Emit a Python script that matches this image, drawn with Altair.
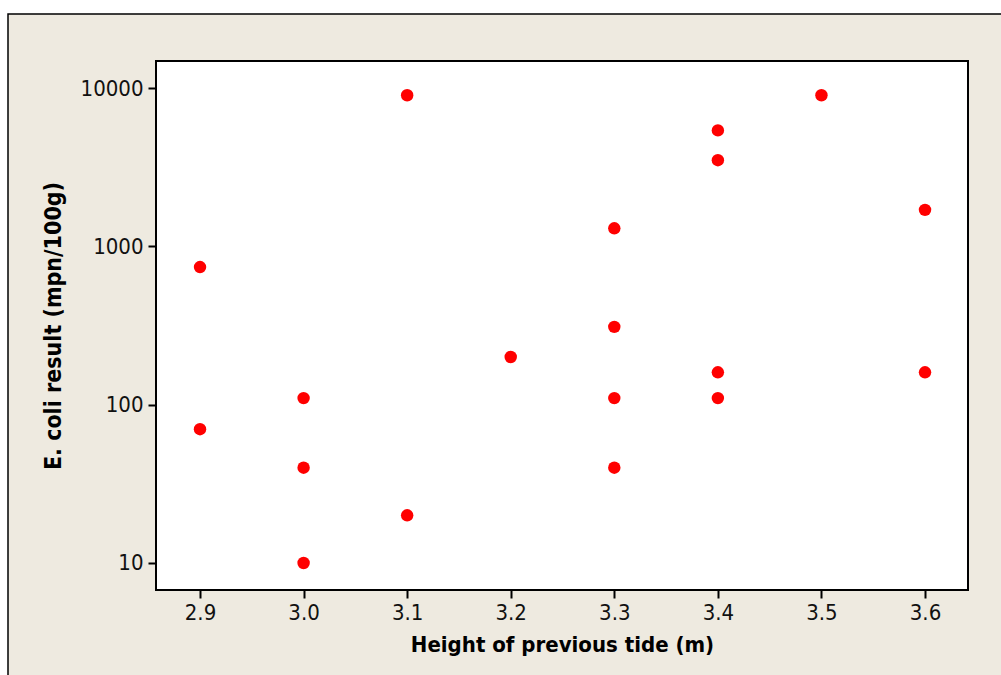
import altair as alt
import pandas as pd

tide = [2.9, 2.9, 3.0, 3.0, 3.0, 3.1, 3.1, 3.2, 3.3, 3.3, 3.3, 3.3, 3.4, 3.4, 3.4, 3.4, 3.5, 3.6, 3.6]
ecoli = [740, 70, 110, 40, 10, 9000, 20, 200, 1300, 310, 110, 40, 5400, 3500, 160, 110, 9000, 1700, 160]
x_ticks = [2.9, 3.0, 3.1, 3.2, 3.3, 3.4, 3.5, 3.6]
y_ticks = [10, 100, 1000, 10000]

df = pd.DataFrame({"tide": tide, "ecoli": ecoli})

W, H = 812, 529
PL, PT = 156, 61
BG = "#EEEAE0"
FONT = "DejaVu Sans Condensed"

one = alt.Data(values=[{"a": 1}])

frame = alt.Chart(one).mark_rect(fill=BG, stroke="black", strokeWidth=1.5, clip=False).encode(
    x=alt.value(8 - PL), x2=alt.value(1001 - PL + 20),
    y=alt.value(14 - PT), y2=alt.value(675 - PT + 20),
)
plotbg = alt.Chart(one).mark_rect(fill="white", stroke="black", strokeWidth=2, clip=False).encode(
    x=alt.value(0), x2=alt.value(W), y=alt.value(0), y2=alt.value(H),
)

points = alt.Chart(df).mark_circle(color="#FF0000", opacity=1, size=155).encode(
    x=alt.X("tide:Q", scale=alt.Scale(domain=[2.8575, 3.6415], nice=False, zero=False),
            axis=alt.Axis(values=x_ticks, format=".1f", title="Height of previous tide (m)",
                          grid=False, domain=False, tickColor="black", tickWidth=2, tickSize=8,
                          labelFont=FONT, labelFontSize=22, labelColor="#111", labelPadding=4,
                          titleFont=FONT, titleFontSize=22, titleFontWeight="bold",
                          titleColor="black", titlePadding=11, zindex=1)),
    y=alt.Y("ecoli:Q", scale=alt.Scale(type="log", domain=[6.75, 14815], nice=False),
            axis=alt.Axis(values=y_ticks, format="d", title="E. coli result (mpn/100g)",
                          grid=False, domain=False, tickColor="black", tickWidth=2, tickSize=8,
                          labelFont=FONT, labelFontSize=22, labelColor="#111", labelPadding=5,
                          titleFont=FONT, titleFontSize=23, titleFontWeight="bold",
                          titleColor="black", titlePadding=15, zindex=1)),
)

chart = alt.layer(frame, plotbg, points).properties(
    width=W, height=H,
    autosize=alt.AutoSizeParams(type="none"),
    padding={"left": PL, "top": PT, "right": 1001 - PL - W, "bottom": 675 - PT - H},
    background="white",
).configure_view(stroke=None, fill=None)

chart.save("out.html", embed_options={"renderer": "svg", "actions": False})
